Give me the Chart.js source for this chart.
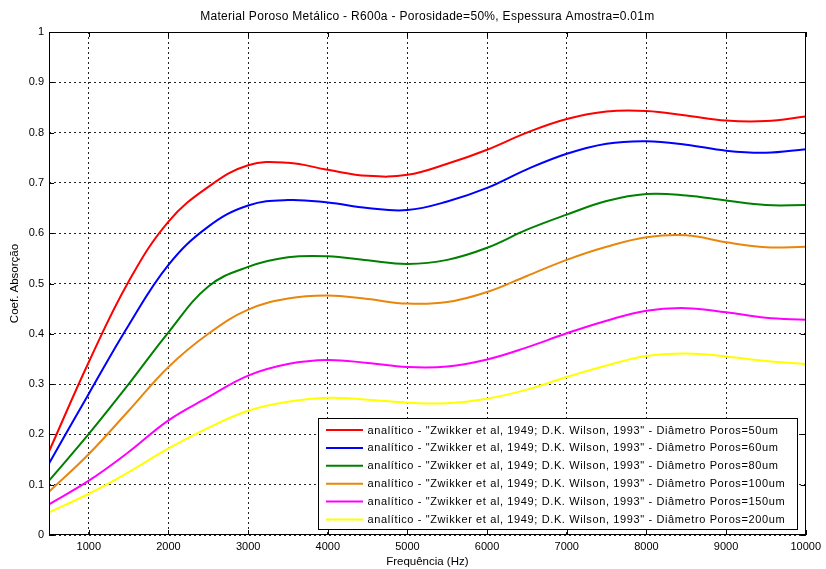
<!DOCTYPE html>
<html>
<head>
<meta charset="utf-8">
<title>Material Poroso Metálico - R600a</title>
<script src="https://cdn.jsdelivr.net/npm/chart.js@4.4.1/dist/chart.umd.min.js"></script>
<style>
  html, body { margin: 0; padding: 0; background: #ffffff; }
  #wrap { width: 826px; height: 569px; position: relative; }
</style>
</head>
<body>
<div id="wrap"><canvas id="c" width="826" height="569"></canvas></div>
<script>
// Frequency grid (Hz)
const freqs = [500, 1000, 1500, 2000, 2500, 3000, 3500, 4000, 4500, 5000,
               5500, 6000, 6500, 7000, 7500, 8000, 8500, 9000, 9500, 10000];

// Absorption coefficient for each pore diameter
const alpha50  = [0.166, 0.344, 0.504, 0.623, 0.692, 0.735, 0.740, 0.726, 0.714, 0.716,
                  0.738, 0.766, 0.800, 0.827, 0.842, 0.843, 0.834, 0.824, 0.823, 0.832];
const alpha60  = [0.142, 0.281, 0.417, 0.537, 0.613, 0.655, 0.666, 0.661, 0.650, 0.646,
                  0.663, 0.690, 0.727, 0.758, 0.778, 0.783, 0.776, 0.764, 0.760, 0.767];
const alpha80  = [0.108, 0.201, 0.300, 0.403, 0.494, 0.533, 0.552, 0.554, 0.546, 0.539,
                  0.547, 0.571, 0.607, 0.637, 0.664, 0.678, 0.675, 0.665, 0.656, 0.656];
const alpha100 = [0.086, 0.161, 0.247, 0.334, 0.400, 0.448, 0.470, 0.476, 0.469, 0.460,
                  0.463, 0.483, 0.515, 0.547, 0.573, 0.592, 0.596, 0.582, 0.572, 0.573];
const alpha150 = [0.061, 0.108, 0.165, 0.228, 0.274, 0.317, 0.340, 0.348, 0.342, 0.334,
                  0.335, 0.349, 0.373, 0.401, 0.426, 0.446, 0.451, 0.443, 0.432, 0.428];
const alpha200 = [0.045, 0.082, 0.125, 0.172, 0.213, 0.247, 0.265, 0.273, 0.269, 0.263,
                  0.262, 0.271, 0.289, 0.314, 0.337, 0.356, 0.361, 0.355, 0.346, 0.340];

const seriesLabels = [
  'analítico - "Zwikker et al, 1949; D.K. Wilson, 1993" - Diâmetro Poros=50um',
  'analítico - "Zwikker et al, 1949; D.K. Wilson, 1993" - Diâmetro Poros=60um',
  'analítico - "Zwikker et al, 1949; D.K. Wilson, 1993" - Diâmetro Poros=80um',
  'analítico - "Zwikker et al, 1949; D.K. Wilson, 1993" - Diâmetro Poros=100um',
  'analítico - "Zwikker et al, 1949; D.K. Wilson, 1993" - Diâmetro Poros=150um',
  'analítico - "Zwikker et al, 1949; D.K. Wilson, 1993" - Diâmetro Poros=200um'
];
const seriesColors = ['#ff0000', '#0000ff', '#008000', '#e8870e', '#ff00ff', '#ffff00'];

// Axis ticks
const xTickValues = [1000, 2000, 3000, 4000, 5000, 6000, 7000, 8000, 9000, 10000];
const xTickLabels = ['1000', '2000', '3000', '4000', '5000', '6000', '7000', '8000', '9000', '10000'];
const yTickValues = [0, 0.1, 0.2, 0.3, 0.4, 0.5, 0.6, 0.7, 0.8, 0.9, 1];
const yTickLabels = ['0', '0.1', '0.2', '0.3', '0.4', '0.5', '0.6', '0.7', '0.8', '0.9', '1'];

const titleText = 'Material Poroso Metálico - R600a - Porosidade=50%, Espessura Amostra=0.01m';
const FONT = '"Liberation Sans", Arial, Helvetica, sans-serif';

const allSeries = [alpha50, alpha60, alpha80, alpha100, alpha150, alpha200];
const datasets = allSeries.map((vals, i) => ({
  label: seriesLabels[i],
  data: freqs.map((f, j) => ({ x: f, y: vals[j] })),
  borderColor: seriesColors[i],
  backgroundColor: seriesColors[i],
  borderWidth: 2,
  pointRadius: 0,
  fill: false,
  tension: 0.4
}));

// Frame, inward tick marks, title and legend box
const decorations = {
  id: 'decorations',
  afterDatasetsDraw(chart) {
    const { ctx, chartArea: a, scales } = chart;
    ctx.save();
    // inward tick marks on all four sides
    ctx.strokeStyle = '#000';
    ctx.lineWidth = 1;
    ctx.setLineDash([]);
    const tl = 5;
    ctx.beginPath();
    xTickValues.forEach(v => {
      const px = Math.round(scales.x.getPixelForValue(v)) + 0.5;
      ctx.moveTo(px, a.bottom); ctx.lineTo(px, a.bottom - tl);
      ctx.moveTo(px, a.top); ctx.lineTo(px, a.top + tl);
    });
    yTickValues.forEach(v => {
      const py = Math.round(scales.y.getPixelForValue(v)) + 0.5;
      ctx.moveTo(a.left, py); ctx.lineTo(a.left + tl, py);
      ctx.moveTo(a.right, py); ctx.lineTo(a.right - tl, py);
    });
    ctx.stroke();

    // legend box
    const lx = 318, ly = 418, lw = 479, lh = 111;
    ctx.fillStyle = '#fff';
    ctx.fillRect(lx, ly, lw, lh);
    ctx.strokeStyle = '#000';
    ctx.strokeRect(lx + 0.5, ly + 0.5, lw, lh);
    ctx.font = '11px ' + FONT;
    ctx.letterSpacing = '0.62px';
    ctx.textBaseline = 'middle';
    ctx.textAlign = 'left';
    chart.data.datasets.forEach((ds, i) => {
      const cy = 430 + i * 17.9;
      ctx.strokeStyle = ds.borderColor;
      ctx.lineWidth = 2;
      ctx.beginPath();
      ctx.moveTo(326, cy); ctx.lineTo(363, cy);
      ctx.stroke();
      ctx.fillStyle = '#000';
      ctx.fillText(ds.label, 367.5, cy + 0.5);
    });

    // frame
    ctx.strokeStyle = '#000';
    ctx.lineWidth = 1;
    ctx.strokeRect(Math.round(a.left) + 0.5, Math.round(a.top) + 0.5,
                   Math.round(a.right - a.left) - 1, Math.round(a.bottom - a.top) - 1);

    // title
    ctx.fillStyle = '#000';
    ctx.font = '12px ' + FONT;
    ctx.letterSpacing = '0.3px';
    ctx.textAlign = 'center';
    ctx.textBaseline = 'middle';
    ctx.fillText(titleText, (a.left + a.right) / 2, 17);
    ctx.letterSpacing = '0px';
    ctx.restore();
  }
};

new Chart(document.getElementById('c'), {
  type: 'line',
  data: { datasets },
  plugins: [decorations],
  options: {
    responsive: false,
    animation: false,
    devicePixelRatio: 1,
    layout: { padding: { left: 0, right: 17, top: 32, bottom: 0 } },
    plugins: {
      legend: { display: false },
      title: { display: false },
      tooltip: { enabled: false }
    },
    scales: {
      x: {
        type: 'linear',
        min: 500,
        max: 10000,
        afterBuildTicks: s => { s.ticks = xTickValues.map(v => ({ value: v })); },
        afterFit: s => { s.height = 34; },
        grid: { color: '#222', lineWidth: 1, drawTicks: false },
        border: { display: false, dash: [2, 3] },
        ticks: {
          color: '#000', padding: 5, maxRotation: 0, autoSkip: false,
          font: { family: FONT, size: 11 },
          callback: (v, i) => xTickLabels[i]
        },
        title: {
          display: true, text: 'Frequência (Hz)', color: '#000',
          font: { family: FONT, size: 11.5 }, padding: { top: 0, bottom: 0 }
        }
      },
      y: {
        type: 'linear',
        min: 0,
        max: 1,
        afterBuildTicks: s => { s.ticks = yTickValues.map(v => ({ value: v })); },
        afterFit: s => { s.width = 49; },
        grid: { color: '#222', lineWidth: 1, drawTicks: false },
        border: { display: false, dash: [2, 3] },
        ticks: {
          color: '#000', padding: 5, autoSkip: false,
          font: { family: FONT, size: 11 },
          callback: (v, i) => yTickLabels[i]
        },
        title: {
          display: true, text: 'Coef. Absorção', color: '#000',
          font: { family: FONT, size: 11.5 }, padding: { top: 8, bottom: 0 }
        }
      }
    }
  }
});
</script>
</body>
</html>
